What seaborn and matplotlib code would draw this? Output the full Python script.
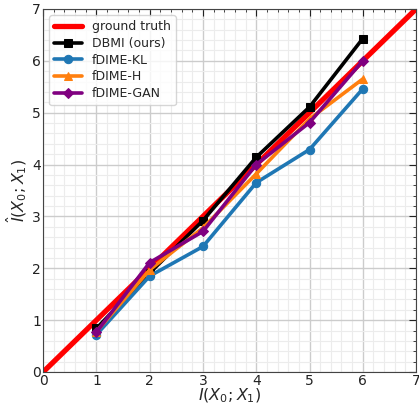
import numpy as np
import pandas as pd
import matplotlib
matplotlib.use("Agg")
import matplotlib.pyplot as plt
import seaborn as sns
from matplotlib.ticker import MultipleLocator

# 데이터
true_mi = [1, 2, 3, 4, 5, 6]
gt_line = [0, 7]
dbmi = [0.84, 1.91, 2.92, 4.14, 5.11, 6.43]
fdime_kl = [0.72, 1.85, 2.42, 3.65, 4.29, 5.46]
fdime_h = [0.78, 1.97, 2.78, 3.82, 4.88, 5.65]
fdime_gan = [0.77, 2.11, 2.71, 4.0, 4.81, 6.0]

sns.set_style("whitegrid", {
    "axes.edgecolor": "#444444",
    "grid.color": "#cccccc",
    "xtick.direction": "in",
    "ytick.direction": "in",
})
plt.rcParams["font.family"] = ["DejaVu Sans"]

fig = plt.figure(figsize=(4.19, 4.07), dpi=100)
ax = fig.add_axes([0.103, 0.086, 0.890, 0.892])

sns.lineplot(x=gt_line, y=gt_line, color="red", lw=3.8, label="ground truth", ax=ax)
sns.lineplot(x=true_mi, y=dbmi, color="black", lw=2.6, marker="s", markersize=6,
             markeredgecolor="black", label="DBMI (ours)", ax=ax)
sns.lineplot(x=true_mi, y=fdime_kl, color="#1f77b4", lw=2.6, marker="o", markersize=6,
             markeredgecolor="#1f77b4", label="fDIME-KL", ax=ax)
sns.lineplot(x=true_mi, y=fdime_h, color="#ff7f0e", lw=2.6, marker="^", markersize=6,
             markeredgecolor="#ff7f0e", label="fDIME-H", ax=ax)
sns.lineplot(x=true_mi, y=fdime_gan, color="purple", lw=2.6, marker="D", markersize=5,
             markeredgecolor="purple", label="fDIME-GAN", ax=ax)

ax.set_xlim(0, 7)
ax.set_ylim(0, 7)
ax.xaxis.set_major_locator(MultipleLocator(1))
ax.yaxis.set_major_locator(MultipleLocator(1))
ax.xaxis.set_minor_locator(MultipleLocator(0.2))
ax.yaxis.set_minor_locator(MultipleLocator(0.2))
ax.grid(which="major", color="#cccccc", lw=1)
ax.grid(which="minor", color="#ececec", lw=0.8)
ax.tick_params(which="both", top=True, right=True, direction="in", labelsize=10,
               colors="#222222", pad=1.5)
ax.tick_params(which="major", length=5)
ax.tick_params(which="minor", length=2.5)
ax.set_xlabel(r"$I(X_0;X_1)$", fontsize=11.5, labelpad=-1)
ax.set_ylabel(r"$\hat{I}(X_0;X_1)$", fontsize=11.5, labelpad=2)
ax.legend(loc="upper left", fontsize=9, frameon=True, handlelength=2.2,
          borderpad=0.4, labelspacing=0.3)

fig.savefig("out.png", dpi=100)
